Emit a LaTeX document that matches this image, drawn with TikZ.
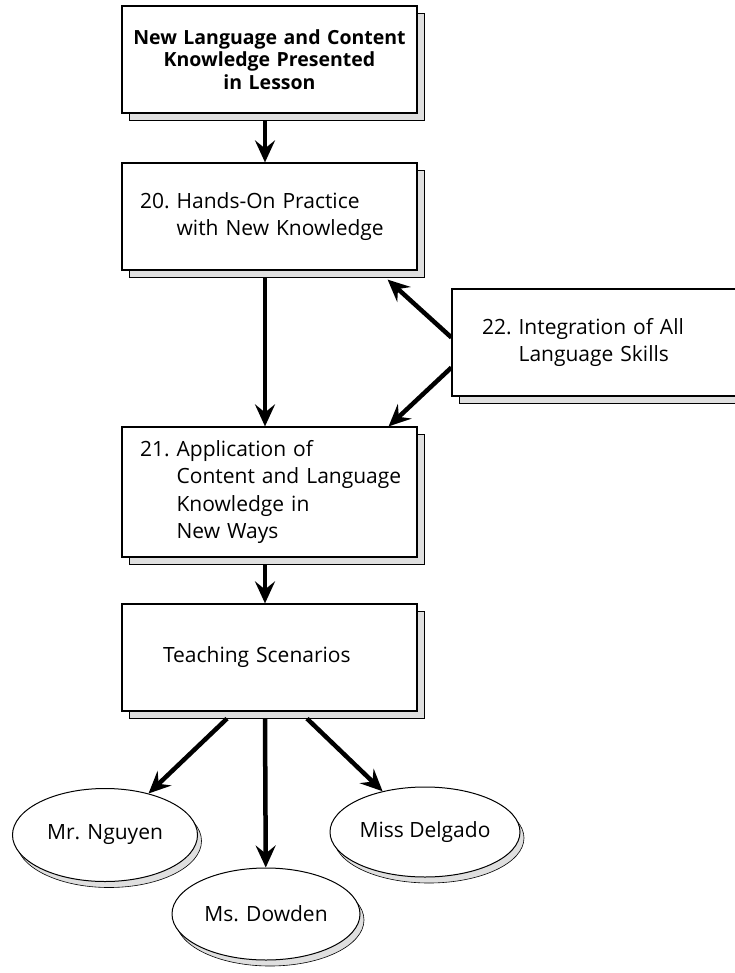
\documentclass[tikz,border=0pt]{standalone}
\usepackage{fontspec}
\setmainfont{Open Sans}
\usetikzlibrary{arrows.meta,shapes.geometric,shadows}

\tikzset{
  stepbox/.style={draw, line width=1.2pt, fill=white, minimum width=295pt, minimum height=107pt,
    text width=259pt, inner xsep=18pt, align=left, font=\fontsize{21}{27.5}\selectfont,
    drop shadow={shadow xshift=7pt, shadow yshift=-7pt, fill=gray!25, draw=black, line width=0.6pt, opacity=1}},
  teacher/.style={ellipse, draw, line width=1pt, fill=white, minimum width=185pt, minimum height=93pt,
    inner sep=0pt, font=\fontsize{21}{25}\selectfont,
    drop shadow={shadow xshift=4pt, shadow yshift=-6pt, fill=gray!25, draw=black, line width=0.6pt, opacity=1}},
  flow/.style={-{Stealth[length=22pt,width=20pt,inset=8pt]}, line width=4.5pt}
}

\begin{document}
\begin{tikzpicture}[x=1pt, y=-1pt]
  \useasboundingbox (0,0) rectangle (734,973);

  % Cajas
  \node[stepbox, align=center, text width=287pt, inner xsep=4pt,
        font=\bfseries\fontsize{19.5}{22.5}\selectfont] (lesson) at (269.5,59.5)
    {New Language and Content\\ Knowledge Presented\\ in Lesson};
  \node[stepbox] (practice) at (269.5,216.5)
    {\begin{tabular}{@{}l@{\hspace{7pt}}l@{}}20. & Hands-On Practice\\ & with New Knowledge\end{tabular}};
  \node[stepbox, minimum width=288pt, text width=228pt, inner xsep=30pt] (integration) at (596,342.5)
    {\begin{tabular}{@{}l@{\hspace{7pt}}l@{}}22. & Integration of All\\ & Language Skills\end{tabular}};
  \node[stepbox, minimum height=130pt] (application) at (269.5,492)
    {\begin{tabular}{@{}l@{\hspace{7pt}}l@{}}21. & Application of\\ & Content and Language\\ & Knowledge in\\ & New Ways\end{tabular}};
  \node[stepbox, align=left, text width=235pt, inner xsep=30pt] (scenarios) at (269.5,657.5)
    {\hspace{11pt}Teaching Scenarios};

  % Maestros
  \node[teacher] (nguyen) at (105,835) {Mr. Nguyen};
  \node[teacher, minimum width=188pt, minimum height=92pt] (dowden) at (266,914) {Ms. Dowden};
  \node[teacher, minimum width=190pt, minimum height=90pt] (delgado) at (425,832) {Miss Delgado};

  % Flechas
  \draw[flow] ([xshift=-4.5pt, yshift=-7pt]lesson.south) -- ([xshift=-4.5pt]practice.north);
  \draw[flow] ([xshift=-4.5pt, yshift=-7pt]practice.south) -- ([xshift=-4.5pt]application.north);
  \draw[flow] ([xshift=-4.5pt, yshift=-7pt]application.south) -- ([xshift=-4.5pt]scenarios.north);
  \draw[flow] ([yshift=5pt]integration.west) -- ([xshift=-30pt, yshift=-9pt]practice.south east);
  \draw[flow] ([yshift=-25pt]integration.west) -- ([xshift=-29pt]application.north east);
  \draw[flow] ([xshift=-42.5pt, yshift=-7pt]scenarios.south) -- (nguyen);
  \draw[flow] ([xshift=-4.5pt, yshift=-7pt]scenarios.south) -- (dowden);
  \draw[flow] ([xshift=37.5pt, yshift=-7pt]scenarios.south) -- (delgado);
\end{tikzpicture}
\end{document}
